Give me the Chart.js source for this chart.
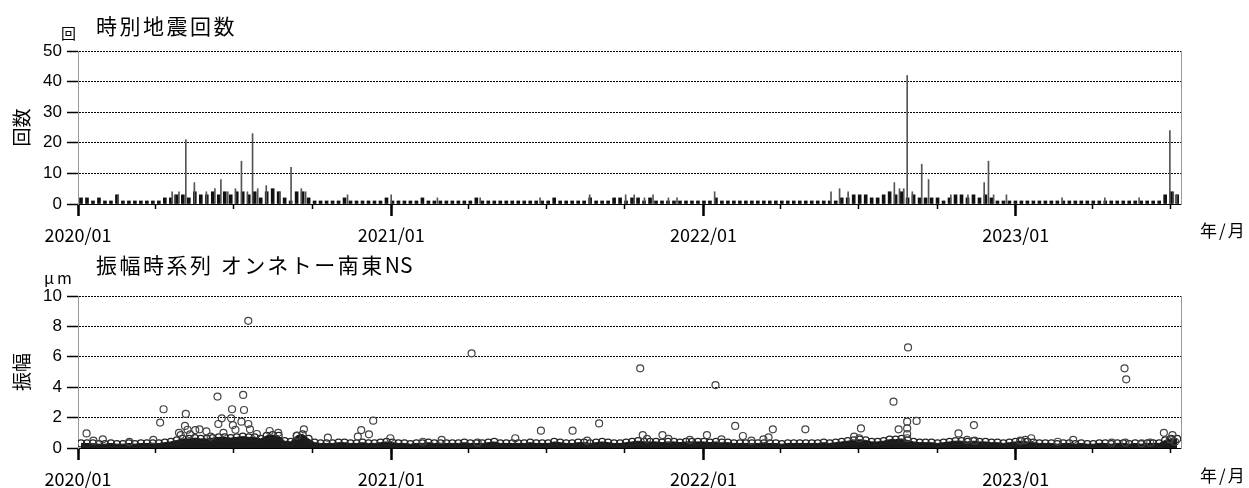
<!DOCTYPE html>
<html>
<head>
<meta charset="utf-8">
<script src="https://cdn.jsdelivr.net/npm/chart.js@4.4.1/dist/chart.umd.min.js"></script>
<style>
  body { margin: 0; background: #fff; }
  #wrap { position: relative; width: 1249px; height: 488px; background: #fff; overflow: hidden; }
  canvas { position: absolute; left: 0; }
  .txt { position: absolute; font-family: "Noto Sans CJK JP", sans-serif; color: #000; line-height: 1; white-space: nowrap; }
  .title { font-size: 21px; letter-spacing: 2.5px; }
  .title span { letter-spacing: 0; }
  .unit { font-size: 15px; }
  .ym { font-size: 17px; letter-spacing: 2px; }
</style>
</head>
<body>
<div id="wrap">
  <canvas id="quakeChart" width="1249" height="250" style="top:0"></canvas>
  <canvas id="ampChart" width="1249" height="244" style="top:244px"></canvas>
  <div class="txt title" style="left:96px;top:15px">時別地震回数</div>
  <div class="txt unit" style="left:61px;top:25px">回</div>
  <div class="txt ym" style="left:1200px;top:221px">年/月</div>
  <div class="txt title" style="left:96px;top:254px">振幅時系列 オンネトー南東<span>NS</span></div>
  <div class="txt unit" style="left:44px;top:269px;font-size:16px;letter-spacing:3px">μm</div>
  <div class="txt ym" style="left:1200px;top:466px">年/月</div>
</div>
<script>
// days counted from 2020/01/01
var lastDay = 1289;
var quarterDays = [0,91,182,274,366,456,547,639,731,821,912,1004,1096,1186,1277];
var yearDays = [0,366,731,1096];
var yearLabels = ['2020/01','2021/01','2022/01','2023/01'];
var countTicks = [0,10,20,30,40,50];
var ampTicks = [0,2,4,6,8,10];

// hourly counts, background level per week (week 0 starts 2020/01/01)
var weekCount2020 = [2,2,1,2,1,1,3,1,1,1,1,1,1, 1,2,2,3,
  3,2,4,3,3,4,3,4,3,4,4,3,4,2,4,5,4,2,1,4,4,2,
  1,1,1,1,1,2,1,1,1,1,1,1,2];
var weekCount2021 = [1,1,1,1,1,2,1,1,1,1, 1,1,1,1,2,1,1,1,1,1, 1,1,1,1,1,1,1,2,1,1,
  1,1,1,2,1,1,1,2,2,1, 2,2,1,2,1,1,1,1,1,1, 1,1];
var weekCount2022 = [1,1,2,1,1,1,1,1,1,1, 1,1,1,1,1,1,1,1,1,1, 1,1,1,2,
  2,3,3,3,2,2,3,4,3,4,2,3,2,
  2,2,2,1,2,3,3,2,3,2,3,2,1,1,1];
var weekCount2023 = [1,1,1,1,1,1,1,1,1,1, 1,1,1,1,1,1,1,1,1,1, 1,1,1,1,1,3,4,3];

// single hours that stand out
var spikeDays = [47,110,113,118,126,136,150,160,167,175,184,191,198,204,210,220,236,249,261,266,315,366,
  420,470,540,598,640,650,662,672,690,700,
  744,880,890,900,954,960,965,969,975,986,994,1020,1040,1059,1064,1070,1085,
  1150,1200,1240,1276,1280,1284];
var spikeCounts = [3,4,3,4,21,7,4,5,8,4,5,14,4,23,5,6,4,12,5,4,3,3,
  2,2,2,3,3,3,2,3,2,2,
  4,4,5,4,7,5,5,42,4,13,8,3,3,7,14,3,3,
  2,2,2,24,4,3];

// amplitude (micrometre): top of the dense cloud per week
var weekAmp2020 = [0.3,0.3,0.3,0.25,0.25,0.3,0.25,0.25,0.3,0.25,0.3,0.3,0.3, 0.3,0.35,0.4,0.5,
  0.6,0.6,0.65,0.6,0.6,0.65,0.7,0.7,0.65,0.7,0.75,0.7,0.7,0.6,0.8,0.85,0.8,0.45,0.4,0.8,0.9,0.6,
  0.35,0.3,0.3,0.3,0.35,0.35,0.3,0.3,0.35,0.3,0.3,0.35,0.4];
var weekAmp2021 = [0.35,0.3,0.3,0.25,0.3,0.3,0.35,0.3,0.3,0.3, 0.3,0.3,0.35,0.3,0.3,0.3,0.35,0.4,0.3,0.3,
  0.3,0.3,0.3,0.35,0.3,0.3,0.3,0.4,0.35,0.3, 0.3,0.35,0.35,0.3,0.35,0.4,0.35,0.3,0.3,0.35,
  0.4,0.45,0.4,0.4,0.4,0.35,0.4,0.4,0.35,0.4, 0.4,0.4];
var weekAmp2022 = [0.4,0.35,0.4,0.35,0.35,0.3,0.3,0.3,0.3,0.3, 0.3,0.3,0.3,0.25,0.3,0.3,0.3,0.3,0.3,0.3,
  0.35,0.3,0.35,0.4,
  0.45,0.5,0.55,0.5,0.4,0.4,0.45,0.55,0.55,0.6,0.5,0.4,0.35,
  0.35,0.35,0.3,0.35,0.4,0.45,0.45,0.4,0.45,0.4,0.4,0.35,0.35,0.3,0.35];
var weekAmp2023 = [0.4,0.45,0.4,0.35,0.3,0.3,0.3,0.25,0.3,0.3, 0.25,0.3,0.25,0.25,0.3,0.3,0.25,0.3,0.3,0.25,
  0.3,0.25,0.3,0.3,0.3,0.5,0.6,0.6];

// scattered events above the cloud
var ampDays = [10,18,29,60,88,96,100,118,120,125,126,128,131,137,142,150,155,163,164,168,170,179,180,181,184,191,193,194,199,199,201,209,224,234,256,264,292,327,331,340,345,365,
  403,425,460,467,511,541,578,595,609,657,660,665,683,690,715,
  735,745,752,768,777,787,801,807,812,850,907,913,915,953,959,969,969,969,969,970,980,1029,1039,1047,1048,
  1101,1107,1114,1145,1163,1208,1223,1224,1225,1243,1253,1269,1276,1279,1282];
var ampValues = [0.96,0.48,0.57,0.4,0.53,1.67,2.55,1.0,0.85,1.45,2.24,1.2,0.9,1.18,1.23,1.1,0.75,3.38,1.58,1.95,1.0,1.95,2.55,1.51,1.2,1.73,3.49,2.5,8.37,1.58,1.23,0.92,1.12,1.0,0.81,1.23,0.68,0.75,1.18,0.9,1.8,0.64,
  0.41,0.53,6.23,0.35,0.64,1.14,1.14,0.48,1.62,5.24,0.85,0.6,0.85,0.6,0.53,
  0.85,4.14,0.57,1.45,0.79,0.48,0.57,0.7,1.23,1.23,0.75,0.64,1.29,3.05,1.23,1.73,1.29,0.92,0.64,6.62,1.78,0.96,0.53,1.51,0.48,
  0.48,0.53,0.64,0.41,0.53,0.35,5.24,0.35,4.52,0.31,0.35,1.0,0.57,0.85,0.41];

var weekCount = weekCount2020.concat(weekCount2021, weekCount2022, weekCount2023);
var weekAmp = weekAmp2020.concat(weekAmp2021, weekAmp2022, weekAmp2023);
function weekPoints(arr) {
  return arr.map(function(v, i) { return {x: i * 7 + 3.5, y: v}; });
}
function pairs(xs, ys) {
  return xs.map(function(v, i) { return {x: v, y: ys[i]}; });
}

var tickFont = {family: 'Liberation Sans', size: 17};
var dateFont = {family: 'Noto Sans CJK JP', size: 18};
var axisTitleFont = {family: 'Noto Sans CJK JP', size: 19};

function scalesFor(yMax, yTicks, yTitle, xHeight) {
  return {
    x: {
      type: 'linear', min: 0, max: lastDay, offset: false,
      afterBuildTicks: function(s) { s.ticks = quarterDays.map(function(v) { return {value: v}; }); },
      afterFit: function(s) { s.height = xHeight; },
      ticks: {
        autoSkip: false, maxRotation: 0, padding: 15, color: '#000', font: dateFont,
        callback: function(v) { var i = yearDays.indexOf(v); return i >= 0 ? yearLabels[i] : ''; }
      },
      grid: {drawOnChartArea: false, offset: false, tickLength: 5, tickColor: '#000', tickWidth: 1.5},
      border: {display: true, color: '#000', width: 1}
    },
    xYear: {
      axis: 'x', type: 'linear', min: 0, max: lastDay, offset: false, position: {y: 0},
      afterBuildTicks: function(s) { s.ticks = yearDays.map(function(v) { return {value: v}; }); },
      ticks: {display: false},
      grid: {drawOnChartArea: false, offset: false, tickLength: 12, tickColor: '#000', tickWidth: 2.5},
      border: {display: false}
    },
    y: {
      type: 'linear', min: 0, max: yMax,
      afterBuildTicks: function(s) { s.ticks = yTicks.map(function(v) { return {value: v}; }); },
      afterFit: function(s) { s.width = 78; },
      ticks: {padding: 5, color: '#000', font: tickFont},
      title: {display: true, text: yTitle, color: '#000', font: axisTitleFont, padding: {top: 10, bottom: 0}},
      grid: {color: '#000', lineWidth: 1, tickLength: 11, tickColor: '#000', tickWidth: 1.5},
      border: {display: true, color: '#999', width: 1, dash: [2, 1]}
    },
    yRight: {
      axis: 'y', type: 'linear', position: 'right', min: 0, max: yMax,
      afterFit: function(s) { s.width = 0; },
      ticks: {display: false},
      grid: {display: false},
      border: {display: true, color: '#999', width: 1}
    }
  };
}

new Chart(document.getElementById('quakeChart'), {
  type: 'bar',
  data: {
    datasets: [
      {label: 'spikes', data: pairs(spikeDays, spikeCounts), backgroundColor: '#555', barThickness: 1, grouped: false, order: 1},
      {label: 'weekly', data: weekPoints(weekCount), backgroundColor: '#111', barThickness: 3, grouped: false, order: 2}
    ]
  },
  options: {
    responsive: false, animation: false,
    layout: {padding: {left: 0, right: 68, top: 51, bottom: 0}},
    plugins: {legend: {display: false}, tooltip: {enabled: false}},
    scales: scalesFor(50, countTicks, '回数', 46)
  }
});

new Chart(document.getElementById('ampChart'), {
  type: 'scatter',
  data: {
    datasets: [
      {label: 'events', data: pairs(ampDays, ampValues), pointStyle: 'circle', pointRadius: 3.5,
       borderColor: '#444', borderWidth: 1.2, backgroundColor: 'rgba(0,0,0,0)', order: 1},
      {label: 'cloud top', data: weekPoints(weekAmp), pointStyle: 'circle', pointRadius: 3.5,
       borderColor: '#222', borderWidth: 1.2, backgroundColor: 'rgba(0,0,0,0)', order: 2},
      {type: 'line', label: 'cloud', data: weekPoints(weekAmp), showLine: true, fill: 'origin',
       borderColor: '#111', borderWidth: 1, backgroundColor: '#1a1a1a', pointRadius: 0, tension: 0, order: 3}
    ]
  },
  options: {
    responsive: false, animation: false,
    layout: {padding: {left: 0, right: 68, top: 52, bottom: 0}},
    plugins: {legend: {display: false}, tooltip: {enabled: false}},
    scales: scalesFor(10, ampTicks, '振幅', 40)
  }
});
</script>
</body>
</html>
